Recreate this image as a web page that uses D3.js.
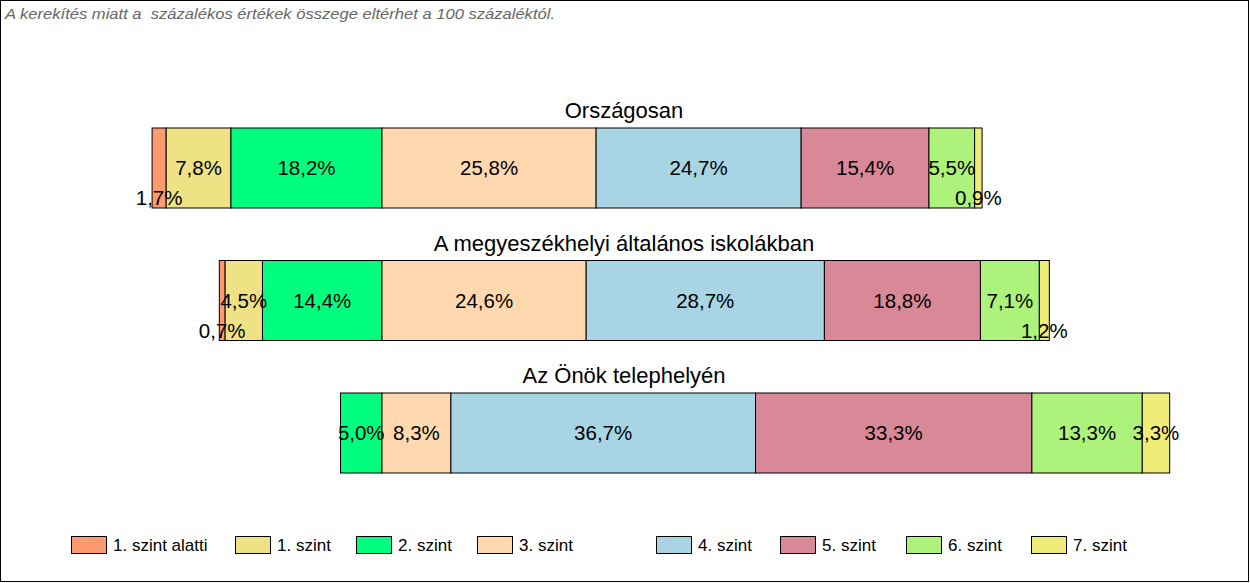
<!DOCTYPE html>
<html><head><meta charset="utf-8">
<script src="https://cdn.jsdelivr.net/npm/d3@7"></script>
<style>body{margin:0;background:#fff}svg{display:block}text{font-family:"Liberation Sans",Arial,sans-serif}</style>
</head><body>
<svg id="c" width="1250" height="583"></svg>
<script>
const note = "A kerekítés miatt a  százalékos értékek összege eltérhet a 100 százaléktól.";
const categories = ["Országosan", "A megyeszékhelyi általános iskolákban", "Az Önök telephelyén"];
const levels = ["1. szint alatti", "1. szint", "2. szint", "3. szint", "4. szint", "5. szint", "6. szint", "7. szint"];
const colors = ["#FF9A6E", "#EEE285", "#00FF7F", "#FFD8B0", "#A8D4E4", "#D98898", "#ADF27A", "#F0EC78"];
const national = [1.7, 7.8, 18.2, 25.8, 24.7, 15.4, 5.5, 0.9];
const county = [0.7, 4.5, 14.4, 24.6, 28.7, 18.8, 7.1, 1.2];
const site = [0, 0, 5.0, 8.3, 36.7, 33.3, 13.3, 3.3];
const series = [national, county, site];
const negCount = 3; // levels below the centre line

const svg = d3.select("#c");
svg.append("rect").attr("x",0.5).attr("y",0.5).attr("width",1248).attr("height",581)
  .attr("fill","#fff").attr("stroke","#000");
svg.append("text").attr("x",5).attr("y",19).attr("font-size",15).attr("font-style","italic")
  .attr("fill","#666").attr("textLength",550).attr("lengthAdjust","spacingAndGlyphs")
  .style("white-space","pre").text(note);

const x = d3.scaleLinear().domain([-30, 75]).range([382 - 30*8.3, 382 + 75*8.3]);
const y = d3.scaleBand().domain(categories).range([128, 473]).paddingInner(52.5/132.5).paddingOuter(0);
const fmt = v => d3.format(".1f")(v).replace(".", ",") + "%";

categories.forEach((cat, i) => {
  const vals = series[i];
  let start = -d3.sum(vals.slice(0, negCount));
  const segs = vals.map((v, j) => { const s = {v, j, x0: start, x1: start + v}; start += v; return s; });
  const g = svg.append("g");
  const top = y(cat), h = y.bandwidth();
  g.append("text").attr("x", 624).attr("y", top - 10).attr("text-anchor","middle")
    .attr("font-size",22).text(cat);
  const sg = segs.filter(s => s.v > 0);
  g.selectAll("rect").data(sg).join("rect")
    .attr("x", s => x(s.x0)).attr("y", top).attr("width", s => x(s.x1) - x(s.x0)).attr("height", h)
    .attr("fill", s => colors[s.j]).attr("stroke","#000").attr("stroke-width",1);
  g.selectAll("text.v").data(sg).join("text").attr("class","v")
    .attr("x", s => (x(s.x0) + x(s.x1)) / 2)
    .attr("y", s => s.v < 2 ? top + h - 3 : top + h/2 + 7)
    .attr("text-anchor","middle").attr("font-size",20.5).text(s => fmt(s.v));
});

const legX = [71, 235, 356, 477, 656, 780, 906, 1031];
const lg = svg.append("g");
levels.forEach((l, i) => {
  lg.append("rect").attr("x", legX[i] + 0.5).attr("y", 536.5).attr("width", 35).attr("height", 17)
    .attr("fill", colors[i]).attr("stroke","#000");
  lg.append("text").attr("x", legX[i] + 42).attr("y", 551).attr("font-size",17).text(l);
});
</script>
</body></html>
